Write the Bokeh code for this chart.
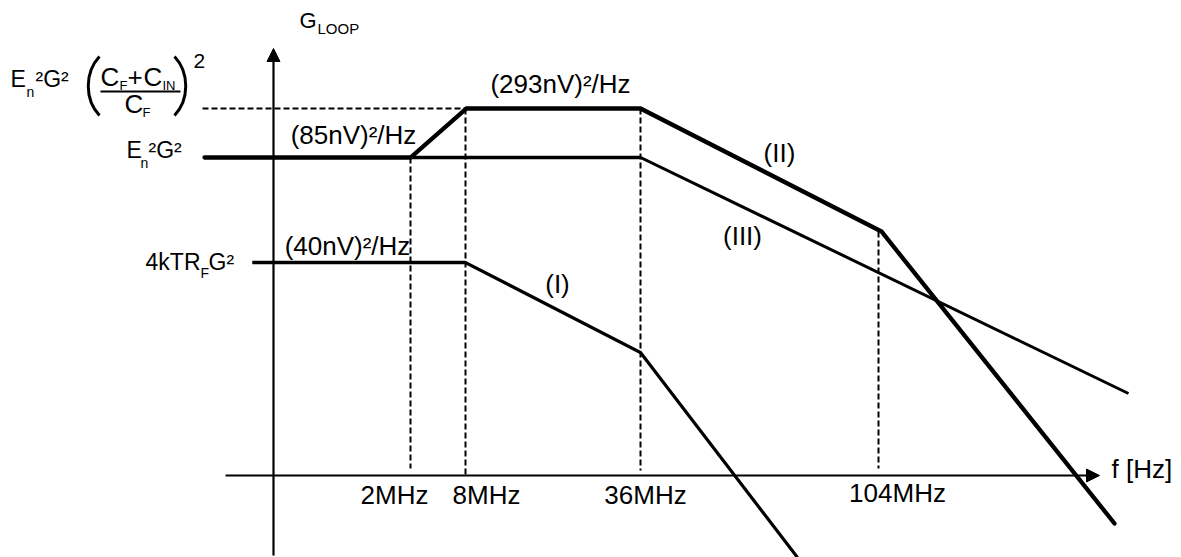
from bokeh.plotting import figure
from bokeh.models import Range1d, Arrow, NormalHead, ColumnDataSource
from bokeh.core.properties import value
from bokeh.embed import file_html
from bokeh.resources import INLINE

FONT = "Liberation Sans"

# ---- schematic data (diagram units: x to the right, y downward) ----
x_axis_level = 475
x_axis_start, x_axis_tip = 225, 1099
y_axis_pos = 273
y_axis_start, y_axis_tip = 555, 48

freq_labels = ["2MHz", "8MHz", "36MHz", "104MHz"]
freq_pos = [410, 465, 640, 878]
freq_mark_top = [157, 108, 108, 231]
freq_mark_bottom = [468, 475, 470, 468]
freq_label_x = [394, 486, 645, 897]
freq_label_y = [504, 504, 504, 502]

level_peak = 108
peak_dash_x = [202, 466]

curve_II_x = [204, 410, 466, 640, 881, 1114]
curve_II_y = [157, 157, 108, 108, 231, 523]
curve_III_x = [410, 640, 1128]
curve_III_y = [157, 157, 393]
curve_I_x = [252, 465, 640, 797]
curve_I_y = [262, 262, 352, 557]

noise_labels = ["(85nV)²/Hz", "(40nV)²/Hz", "(293nV)²/Hz"]
noise_label_x = [353, 347, 560]
noise_label_y = [144, 255, 93]

curve_names = ["(I)", "(II)", "(III)"]
curve_name_x = [557, 779, 742]
curve_name_y = [293, 162, 245]

# bracket strokes of the fraction (top, bottom, bulge)
paren_x = [99, 174]
paren_bulge_x = [84, 189]
paren_top, paren_bottom = 56, 115

W, H = 1181, 557

# ---- figure ----
p = figure(width=W, height=H, x_range=Range1d(0, W), y_range=Range1d(H, 0),
           output_backend="svg", toolbar_location=None, min_border=0)
p.axis.visible = False
p.grid.visible = False
p.outline_line_color = None
p.background_fill_color = "white"
p.border_fill_color = "white"

# axes with arrows
p.add_layout(Arrow(end=NormalHead(size=13, fill_color="black", line_color="black"),
                   x_start=y_axis_pos, y_start=y_axis_start, x_end=y_axis_pos, y_end=y_axis_tip,
                   line_width=2.2, line_color="black"))
p.add_layout(Arrow(end=NormalHead(size=13, fill_color="black", line_color="black"),
                   x_start=x_axis_start, y_start=x_axis_level, x_end=x_axis_tip, y_end=x_axis_level,
                   line_width=2.2, line_color="black"))

# dashed guides
p.multi_line(xs=[[x, x] for x in freq_pos],
             ys=[[t, b] for t, b in zip(freq_mark_top, freq_mark_bottom)],
             line_color="black", line_width=2, line_dash="6 3")
p.line(x=peak_dash_x, y=[level_peak, level_peak], line_color="black", line_width=2, line_dash="6 3")

# curves
p.line(x=curve_III_x, y=curve_III_y, line_color="black", line_width=3, line_join="miter")
p.line(x=curve_III_x[:2], y=curve_III_y[:2], line_color="black", line_width=3.6)
p.line(x=curve_I_x, y=curve_I_y, line_color="black", line_width=3.2, line_join="miter")
p.line(x=curve_I_x[:2], y=curve_I_y[:2], line_color="black", line_width=3.6)
p.line(x=curve_II_x, y=curve_II_y, line_color="black", line_width=4.3, line_join="miter", line_cap="round")

BASE_SHIFT = 0.35  # bokeh's text box sits a bit below the alphabetic baseline

def txt(xs, ys, texts, size, align="left"):
    src = ColumnDataSource(dict(x=xs, y=[v - BASE_SHIFT * size for v in ys], t=texts))
    p.text(x="x", y="y", text="t", source=src, text_font=value(FONT),
           text_font_size=value(f"{size}px"), text_align=align, text_baseline="alphabetic",
           text_color="black")

# tick labels and curve labels
txt(freq_label_x, freq_label_y, freq_labels, 26, align="center")
txt(noise_label_x, noise_label_y, noise_labels, 26, align="center")
txt(curve_name_x, curve_name_y, curve_names, 26, align="center")
txt([1111], [478], ["f [Hz]"], 26)

# y-axis title G_LOOP
txt([299], [28], ["G"], 22)
txt([317], [33], ["LOOP"], 15)

# level labels
txt([10, 35, 126, 148, 208], [87, 87, 158, 158, 270], ["E", "²G²", "E", "²G²", "G²"], 23)
txt([26, 140, 200], [96, 167, 277], ["n", "n", "F"], 14)
txt([200], [270], ["4kTR"], 23, align="right")

# fraction (C_F + C_IN) / C_F
p.bezier(x0=paren_x, y0=[paren_top] * 2, x1=paren_x, y1=[paren_bottom] * 2,
         cx0=paren_bulge_x, cy0=[paren_top + 16] * 2, cx1=paren_bulge_x, cy1=[paren_bottom - 16] * 2,
         line_color="black", line_width=3)
txt([100, 127, 143, 124], [86, 86, 86, 113], ["C", "+", "C", "C"], 26)
txt([119, 162, 142], [90, 90, 117], ["F", "IN", "F"], 13)
p.line(x=[100, 180], y=[91, 91], line_color="black", line_width=2)
txt([193], [68], ["2"], 21)

open("out.html", "w").write(file_html(p, INLINE))
